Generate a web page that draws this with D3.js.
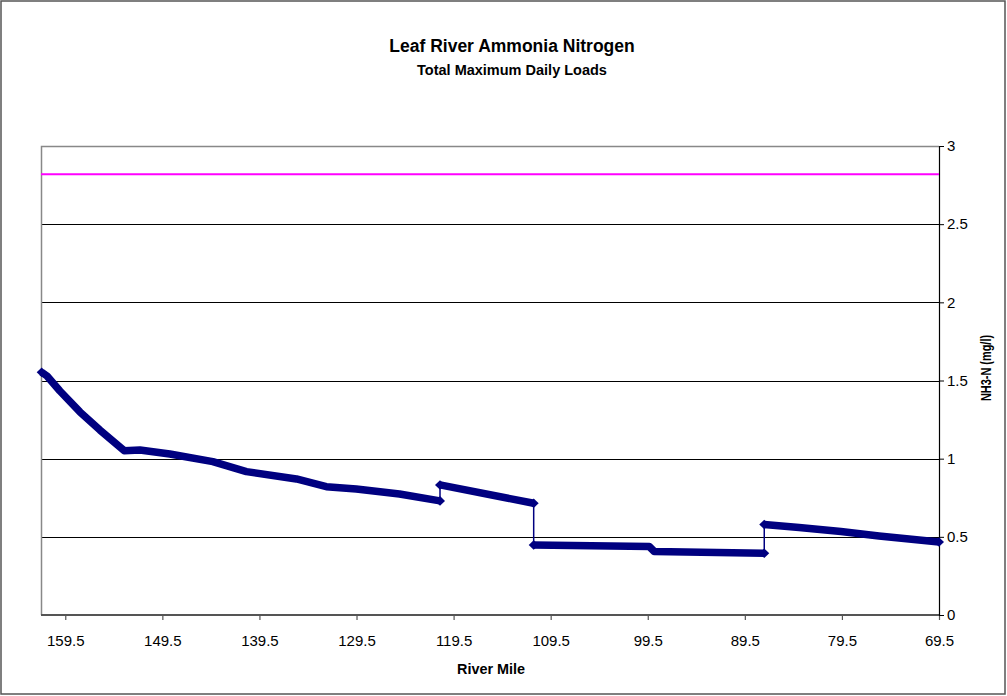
<!DOCTYPE html>
<html>
<head>
<meta charset="utf-8">
<script src="https://cdn.jsdelivr.net/npm/d3@7/dist/d3.min.js"></script>
<style>
  html, body { margin: 0; padding: 0; background: #fff; }
  svg { display: block; font-family: "Liberation Sans", Arial, sans-serif; }
</style>
</head>
<body>
<svg id="chart" width="1007" height="696"></svg>
<script>
// River mile along the Leaf River (upstream to downstream).
// A repeated mile marks a discharge point where the concentration steps.
const riverMile = [
  161.93, 161.38, 160.05, 157.99, 155.93, 153.43,
  151.81, 148.73, 144.30, 140.84, 135.69, 132.61, 129.52, 125.07, 120.90,
  120.90, 111.25,
  111.25, 99.35, 98.83, 87.50,
  87.50, 83.91, 79.60, 75.68, 69.50
];
// NH3-N concentration (mg/l) at each river mile.
const nh3 = [
  1.553, 1.529, 1.433, 1.299, 1.183, 1.051,
  1.055, 1.030, 0.981, 0.917, 0.870, 0.821, 0.806, 0.774, 0.730,
  0.832, 0.715,
  0.448, 0.438, 0.406, 0.395,
  0.579, 0.560, 0.534, 0.505, 0.467
];
// TMDL criterion line (mg/l)
const criterion = 2.82;

const xTickValues = [159.5, 149.5, 139.5, 129.5, 119.5, 109.5, 99.5, 89.5, 79.5, 69.5];
const yTickValues = [0, 0.5, 1, 1.5, 2, 2.5, 3];
const xDomain = [162, 69.5];
const yDomain = [0, 3];

const svg = d3.select("#chart");
const plot = { left: 41, right: 939, top: 146, bottom: 615 };

const x = d3.scaleLinear().domain(xDomain).range([plot.left, plot.right]);
const y = d3.scaleLinear().domain(yDomain).range([plot.bottom, plot.top]);

// outer chart frame
svg.append("rect")
  .attr("x", 1).attr("y", 1).attr("width", 1004).attr("height", 693)
  .attr("fill", "#fff").attr("stroke", "#555").attr("stroke-width", 1.5);

// titles
svg.append("text").attr("x", 512).attr("y", 52)
  .attr("text-anchor", "middle").attr("font-weight", "bold").attr("font-size", 17.5)
  .text("Leaf River Ammonia Nitrogen");
svg.append("text").attr("x", 512).attr("y", 75)
  .attr("text-anchor", "middle").attr("font-weight", "bold").attr("font-size", 14.5)
  .text("Total Maximum Daily Loads");

// horizontal gridlines
svg.append("g")
  .selectAll("line")
  .data(yTickValues.filter(v => v > 0 && v < 3))
  .join("line")
  .attr("x1", plot.left).attr("x2", plot.right)
  .attr("y1", d => Math.round(y(d)) + 0.5).attr("y2", d => Math.round(y(d)) + 0.5)
  .attr("stroke", "#000").attr("stroke-width", 1);

// plot area border (top, left)
svg.append("path")
  .attr("d", `M${plot.left + 0.5},${plot.bottom}V${plot.top + 0.5}H${plot.right}`)
  .attr("fill", "none").attr("stroke", "#888").attr("stroke-width", 1.5);

// x axis
const xAxis = d3.axisBottom(x)
  .tickValues(xTickValues)
  .tickFormat(d3.format(".1f"))
  .tickSizeInner(5).tickSizeOuter(0).tickPadding(15);
const gx = svg.append("g")
  .attr("transform", `translate(0,${plot.bottom})`)
  .call(xAxis);
gx.select(".domain").remove();
gx.selectAll(".tick line").attr("stroke", "#555").attr("stroke-width", 1.2);
gx.selectAll(".tick text").attr("font-size", 15).attr("fill", "#000")
  .attr("font-family", "Liberation Sans, Arial, sans-serif");
svg.append("line")
  .attr("x1", plot.left).attr("x2", plot.right)
  .attr("y1", plot.bottom).attr("y2", plot.bottom)
  .attr("stroke", "#555").attr("stroke-width", 2);

// y axis on the right
const yAxis = d3.axisRight(y)
  .tickValues(yTickValues)
  .tickFormat(d => d3.format("")(d))
  .tickSizeInner(5).tickSizeOuter(0).tickPadding(3);
const gy = svg.append("g")
  .attr("transform", `translate(${plot.right},0)`)
  .call(yAxis);
gy.select(".domain").attr("stroke", "#000").attr("stroke-width", 1.2);
gy.selectAll(".tick line").attr("stroke", "#000");
gy.selectAll(".tick text").attr("font-size", 15).attr("fill", "#000")
  .attr("font-family", "Liberation Sans, Arial, sans-serif");

// axis titles
svg.append("text").attr("x", 491).attr("y", 674)
  .attr("text-anchor", "middle").attr("font-weight", "bold").attr("font-size", 14.4)
  .text("River Mile");
svg.append("text")
  .attr("transform", `translate(991,368) rotate(-90) scale(0.78,1)`)
  .attr("text-anchor", "middle").attr("font-weight", "bold").attr("font-size", 14)
  .text("NH3-N (mg/l)");

// criterion line
svg.append("line")
  .attr("x1", x(xDomain[0])).attr("x2", x(xDomain[1]))
  .attr("y1", y(criterion)).attr("y2", y(criterion))
  .attr("stroke", "#ff00ff").attr("stroke-width", 2);

// split the profile into reaches at repeated river miles
const pts = riverMile.map((m, i) => ({ m, v: nh3[i] }));
const reaches = [];
let cur = [pts[0]];
const steps = [];
for (let i = 1; i < pts.length; i++) {
  if (pts[i].m === pts[i - 1].m) {
    reaches.push(cur);
    steps.push([pts[i - 1], pts[i]]);
    cur = [pts[i]];
  } else {
    cur.push(pts[i]);
  }
}
reaches.push(cur);

const line = d3.line().x(d => x(d.m)).y(d => y(d.v));
const navy = "#000080";

// thin connectors at discharge steps
svg.append("g").selectAll("line").data(steps).join("line")
  .attr("x1", d => x(d[0].m)).attr("x2", d => x(d[1].m))
  .attr("y1", d => y(d[0].v)).attr("y2", d => y(d[1].v))
  .attr("stroke", navy).attr("stroke-width", 1.5);

// thick concentration profile per reach
svg.append("g").selectAll("path").data(reaches).join("path")
  .attr("d", line)
  .attr("fill", "none").attr("stroke", navy)
  .attr("stroke-width", 7.5).attr("stroke-linejoin", "round");

// diamond markers at reach ends
const ends = reaches.flatMap(r => [r[0], r[r.length - 1]]);
svg.append("g").selectAll("path").data(ends).join("path")
  .attr("transform", d => `translate(${x(d.m)},${y(d.v)})`)
  .attr("d", "M-5,0L0,-4.8L5,0L0,4.8Z")
  .attr("fill", navy);
</script>
</body>
</html>
